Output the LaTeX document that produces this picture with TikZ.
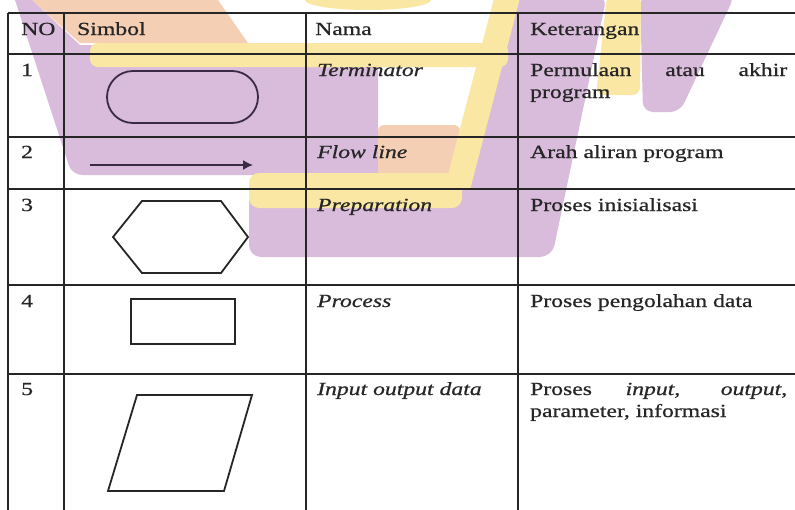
\documentclass[tikz,border=0pt]{standalone}
\usepackage{fontspec}
\setmainfont{Liberation Serif}[FakeStretch=1.28, FakeBold=0.7]
\usetikzlibrary{shapes.misc,arrows.meta}
\definecolor{wmpurple}{HTML}{D9BBDC}
\definecolor{wmyellow}{HTML}{FAE7A3}
\definecolor{wmpeach}{HTML}{F5CFB4}
\definecolor{ink}{HTML}{262626}
\definecolor{inkp}{HTML}{3A2A48}
\hyphenpenalty=10000
\exhyphenpenalty=10000
\tolerance=10000
\hbadness=10000
\begin{document}
\begin{tikzpicture}[x=1pt,y=-1pt,
  grid/.style={line width=1.6pt, draw=ink},
  shp/.style={line width=1.8pt, draw=ink},
  txt/.style={anchor=base west, inner sep=0pt, text=ink, font=\fontsize{18.5}{22}\selectfont},
  nm/.style={txt, font=\fontsize{18.5}{22}\selectfont\itshape},
  para/.style={anchor=base west, inner sep=0pt, text=ink, text width=257pt, align=justify,
    font=\fontsize{18.5}{22}\selectfont}
]
\useasboundingbox (0,0) rectangle (795,509);
% ---- watermark ----
\fill[wmpeach] (32,0) -- (218,0) -- (248,43) -- (80,43) -- cycle;
\fill[wmyellow] (368,0) ellipse (63 and 10);
\fill[wmpurple] (15,0) -- (32,0) -- (80,45) -- (378,45) -- (378,175) -- (82,175) [rounded corners=10pt] -- (72,175) [sharp corners] -- cycle;
\fill[wmpurple, rounded corners=12pt] (515,-5) -- (607,-5) -- (552,257) -- (249,257) -- (249,190) -- (465,190) -- cycle;
\fill[wmpurple, rounded corners=10pt] (640,-5) -- (735,-5) -- (680,112) -- (643,112) -- cycle;
\fill[wmpeach, rounded corners=6pt] (378,125) rectangle (460,182);
\fill[wmyellow, rounded corners=8pt] (90,43) rectangle (508,67);
\fill[wmyellow, rounded corners=10pt] (249,173) rectangle (462,208);
\fill[wmyellow] (494,-2) -- (520,-2) -- (470,190) -- (444,190) -- cycle;
\fill[wmyellow, rounded corners=8pt] (607,-5) -- (641,-5) -- (640,95) -- (596,95) -- cycle;
% ---- table grid ----
\draw[grid] (8,13) -- (795,13);
\draw[grid] (8,54) -- (795,54);
\draw[grid] (8,137) -- (795,137);
\draw[grid] (8,189) -- (795,189);
\draw[grid] (8,285) -- (795,285);
\draw[grid] (8,374) -- (795,374);
\draw[grid] (8,13) -- (8,512);
\draw[grid] (64,13) -- (64,512);
\draw[grid] (306,13) -- (306,512);
\draw[grid] (518,13) -- (518,512);
% ---- header ----
\node[txt] (hno) at (21,35) {NO};
\node[txt] (hsym) at (77,35) {Simbol};
\node[txt] (hnama) at (315,35) {Nama};
\node[txt] (hket) at (530,35) {Keterangan};
% ---- row 1 ----
\node[txt] (n1) at (21,76) {1};
\node[rounded rectangle, line width=1.8pt, draw=inkp, minimum width=151pt, minimum height=52pt, inner sep=0pt] (term) at (182.5,97) {};
\node[nm] (nm1) at (317,76) {Terminator};
\node[para] (k1) at (530,76) {Permulaan atau akhir program};
% ---- row 2 ----
\node[txt] (n2) at (21,158) {2};
\coordinate (a1) at (90,165);
\coordinate (a2) at (253,165);
\draw[line width=1.5pt, draw=inkp, -{Latex[length=10pt,width=10pt]}] (a1) -- (a2);
\node[nm] (nm2) at (317,158) {Flow line};
\node[txt] (k2) at (530,158) {Arah aliran program};
% ---- row 3 ----
\node[txt] (n3) at (21,211) {3};
\draw[shp, line join=miter] (113,237) -- (142,201) -- (221,201) -- (248,237) -- (221,273) -- (142,273) -- cycle;
\node[nm] (nm3) at (317,211) {Preparation};
\node[txt] (k3) at (530,211) {Proses inisialisasi};
% ---- row 4 ----
\node[txt] (n4) at (21,307) {4};
\draw[shp] (131,299) rectangle (235,344);
\node[nm] (nm4) at (317,307) {Process};
\node[txt] (k4) at (530,307) {Proses pengolahan data};
% ---- row 5 ----
\node[txt] (n5) at (21,395) {5};
\draw[shp] (137,395) -- (252,395) -- (224,491) -- (108,491) -- cycle;
\node[nm] (nm5) at (317,395) {Input output data};
\node[para] (k5) at (530,395) {Proses \textit{input}, \textit{output}, parameter, informasi};
\end{tikzpicture}
\end{document}
